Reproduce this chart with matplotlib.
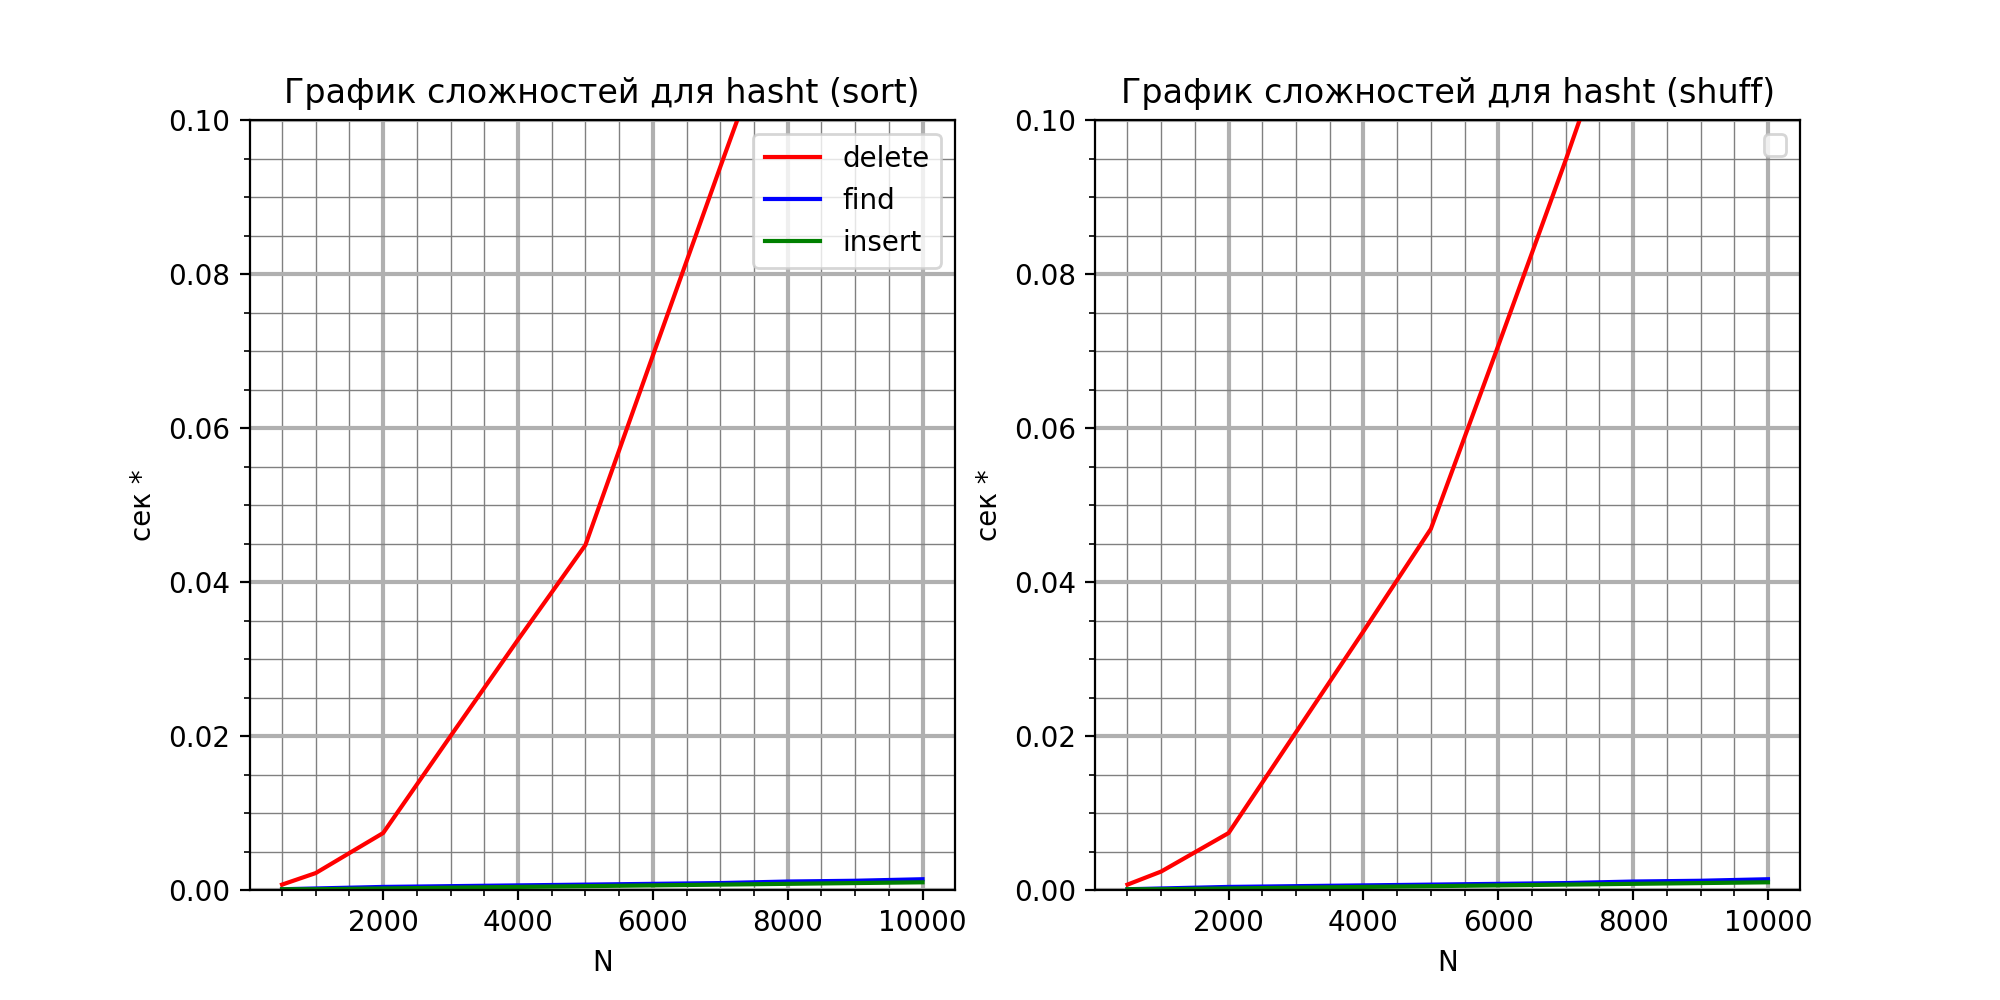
import matplotlib
matplotlib.use('Agg')
import matplotlib.pyplot as plt

N = [500, 1000, 2000, 3000, 4000, 5000, 6000, 7000, 8000, 9000, 10000]

# sorted input
sort_delete = [0.0007, 0.0022, 0.0074, 0.0200, 0.0325, 0.0448, 0.0694, 0.0939, 0.1180, 0.1480, 0.1820]
sort_find = [0.0001, 0.0002, 0.0004, 0.0005, 0.0006, 0.0007, 0.0008, 0.0009, 0.0011, 0.0012, 0.0014]
sort_insert = [0.0001, 0.0001, 0.0002, 0.0003, 0.0004, 0.0005, 0.0006, 0.0007, 0.0008, 0.0009, 0.0010]

# shuffled input
shuff_delete = [0.0007, 0.0024, 0.0074, 0.0205, 0.0336, 0.0469, 0.0707, 0.0948, 0.1200, 0.1500, 0.1850]
shuff_find = [0.0001, 0.0002, 0.0004, 0.0005, 0.0006, 0.0007, 0.0008, 0.0009, 0.0011, 0.0012, 0.0014]
shuff_insert = [0.0001, 0.0001, 0.0002, 0.0003, 0.0004, 0.0005, 0.0006, 0.0007, 0.0008, 0.0009, 0.0010]


def setup(ax, title):
    ax.set_title(title)
    ax.set_xlabel('N')
    ax.set_ylabel('сек *')
    ax.set_ylim(0, 0.1)
    ax.minorticks_on()
    ax.grid(which='major', color='#b0b0b0', lw=1.5)
    ax.grid(which='minor', color='gray', lw=0.5)


fig, (ax1, ax2) = plt.subplots(1, 2, figsize=(10, 5), dpi=200)

ax1.plot(N, sort_delete, color='red', label='delete')
ax1.plot(N, sort_find, color='blue', label='find')
ax1.plot(N, sort_insert, color='green', label='insert')
setup(ax1, 'График сложностей для hasht (sort)')
ax1.legend(loc='upper right')

ax2.plot(N, shuff_delete, color='red')
ax2.plot(N, shuff_find, color='blue')
ax2.plot(N, shuff_insert, color='green')
setup(ax2, 'График сложностей для hasht (shuff)')
ax2.legend(loc='upper right')

fig.savefig('out.png')
